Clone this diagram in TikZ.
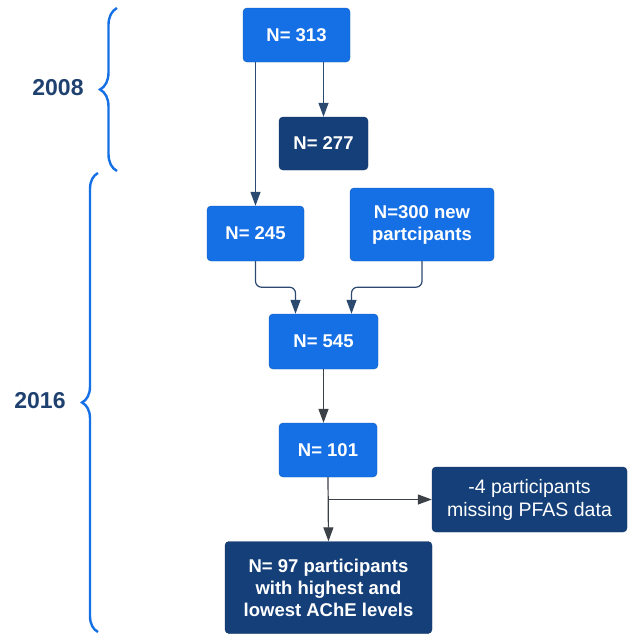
\documentclass[tikz,border=0pt]{standalone}
\usepackage{fontspec}
\setmainfont{Liberation Sans}
\usepackage{tikz}
\usetikzlibrary{decorations.pathreplacing, arrows.meta, positioning}

\definecolor{boxblue}{HTML}{1570E6}
\definecolor{boxnavy}{HTML}{143F78}
\definecolor{yearnavy}{HTML}{1F4170}
\definecolor{lineblue}{HTML}{2C4A70}
\definecolor{linegray}{HTML}{3C4047}

\tikzset{
  stage/.style={rectangle, rounded corners=4pt, fill=boxblue, draw=boxblue!80!black,
                text=white, font=\fontsize{18.5}{22}\selectfont\bfseries, align=center,
                inner sep=0pt},
  final/.style={stage, fill=boxnavy, draw=boxnavy!80!black},
  link/.style={draw=lineblue, line width=1.2pt, -{Triangle[length=14pt,width=10pt]}},
  yearbrace/.style={draw=boxblue, line width=2.4pt, decorate,
                    decoration={brace, amplitude=#1}},
  year/.style={text=yearnavy, font=\fontsize{23}{26}\selectfont\bfseries}
}

\begin{document}
\begin{tikzpicture}[x=1pt, y=-1pt]

  \useasboundingbox (0,0) rectangle (628,635);

  \node[stage, minimum width=107pt, minimum height=54pt] at (296.5,35)  (n313) {N= 313};
  \node[final, minimum width=89pt,  minimum height=53pt] at (323.5,143.5) (n277) {N= 277};
  \node[stage, minimum width=97pt,  minimum height=55pt] at (255.5,233.5) (n245) {N= 245};
  \node[stage, minimum width=144pt, minimum height=73pt] at (422,224.5) (n300) {N=300 new\\partcipants};
  \node[stage, minimum width=109pt, minimum height=55pt] at (323.5,341.5) (n545) {N= 545};
  \node[stage, minimum width=98pt,  minimum height=54pt] at (328,450)   (n101) {N= 101};
  \node[final, minimum width=195pt, minimum height=65pt, font=\fontsize{19.5}{23}\selectfont]
        at (529.5,499.5) (nmiss) {-4 participants\\missing PFAS data};
  \node[final, minimum width=207pt, minimum height=92pt] at (328.5,587.5) (n97)
        {N= 97 participants\\with highest and\\lowest AChE levels};

  % years
  \node[year] at (58,88)  (y2008) {2008};
  \node[year] at (40,401) (y2016) {2016};
  \draw[yearbrace=17pt] (117,171) -- (117,8);
  \draw[yearbrace=16pt] (98,632) -- (98,173);

  % flow
  \draw[link] (n277.north |- n313.south) -- (n277.north);
  \draw[link] (n245.north |- n313.south) -- (n245.north);
  \draw[link, rounded corners=6pt] (n245.south) -- ++(0,26) -| ([xshift=-28pt]n545.north);
  \draw[link, rounded corners=6pt] (n300.south) -- ++(0,26) -| ([xshift=28pt]n545.north);
  \draw[link, draw=linegray] (n545.south) -- (n545.south |- n101.north);
  \draw[link, draw=linegray] (n101.south) -- (n97.north);
  \draw[link, draw=linegray] (n101.south |- nmiss.west) -- (nmiss.west);

\end{tikzpicture}
\end{document}
